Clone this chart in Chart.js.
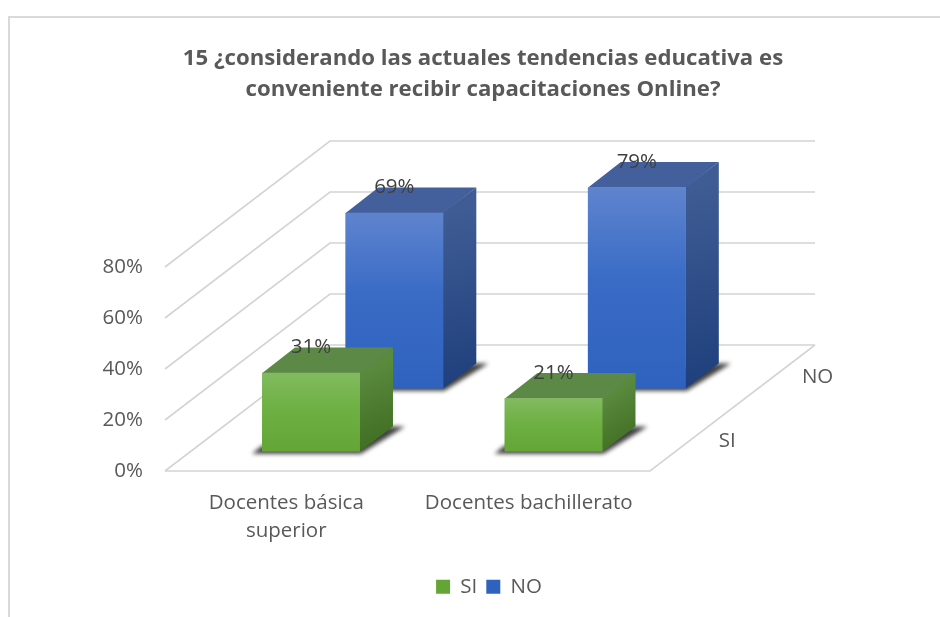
<!DOCTYPE html>
<html><head><meta charset="utf-8">
<script src="https://cdn.jsdelivr.net/npm/chart.js@4"></script>
<style>
html,body{margin:0;padding:0;background:#fff;overflow:hidden;width:940px;height:617px}
#frame{position:absolute;left:8px;top:16px;width:940px;height:610px;border-top:2px solid #d9d9d9;border-left:2px solid #d9d9d9;background:#fff}
#wrap{position:absolute;left:-1px;top:0;width:948px;height:599px}
</style></head><body>
<div id="frame"><div id="wrap"><canvas id="c" width="948" height="599" style="width:948px;height:599px"></canvas></div></div>
<script>
const titleLines = ['15 ¿considerando las actuales tendencias educativa es','conveniente recibir capacitaciones Online?'];
const categories = [['Docentes básica','superior'],'Docentes bachillerato'];
const seriesSI = [31,21];
const seriesNO = [69,79];
const yTicks = [0,20,40,60,80];
const FONT = '"Open Sans"';
const GREY = '#595959';
const LABEL = '#404040';

// Floor depth (px across the whole depth axis) and the position of each row on it
const depth = {x:165,y:-126};
const rowFront = [{x:0.15,y:0.153},{x:0.655,y:0.653}];
const barDepth = 0.2;
const rowLabelOff = [{x:36,y:1.5},{x:43,y:1}];
const legendShift = 6;

const palette = [
 {front:['#82BB60','#6FB044','#64A536'],top:'#5C8A46',side:['#5A8A3E','#3C6A1E'],legend:'#6FAF45'},
 {front:['#5F84CE','#3A6CC6','#2F62BE'],top:'#44609C',side:['#3F5C94','#1E3F7C'],legend:'#4472C4'}
];

function frontFill(i){
  return function(ctx){
    const p = palette[i];
    if(ctx.type!=='data'||!ctx.parsed) return p.legend;
    const ys = ctx.chart.scales.y;
    if(!ys) return p.legend;
    const y0=ys.getPixelForValue(ctx.parsed.y),y1=ys.getPixelForValue(0);
    if(!isFinite(y0)||!isFinite(y1)) return p.legend;
    const g = ctx.chart.ctx.createLinearGradient(0,y0,0,y1);
    g.addColorStop(0,p.front[0]);g.addColorStop(.45,p.front[1]);g.addColorStop(1,p.front[2]);
    return g;
  };
}

function poly(c,pts){c.beginPath();pts.forEach((q,i)=>i?c.lineTo(q[0],q[1]):c.moveTo(q[0],q[1]));c.closePath();}

const scene3d = {
  id:'scene3d',
  afterLayout(chart){chart.legend.left+=legendShift;chart.legend.right+=legendShift;},
  beforeDatasetsDraw(chart){
    const c=chart.ctx,a=chart.chartArea,ys=chart.scales.y;
    const b=ys.getPixelForValue(0);
    c.save();c.strokeStyle='#d4d4d4';c.lineWidth=1.6;
    yTicks.forEach(v=>{
      const y=ys.getPixelForValue(v);
      const yb=y+depth.y;
      c.beginPath();c.moveTo(a.left,y);c.lineTo(a.left+depth.x,yb);c.lineTo(a.right+depth.x,yb);c.stroke();
    });
    c.beginPath();c.moveTo(a.left,b);c.lineTo(a.right,b);c.lineTo(a.right+depth.x,b+depth.y);c.stroke();
    c.restore();
  },
  beforeDatasetDraw(chart,args){
    const c=chart.ctx,i=args.index,r=rowFront[i],p=palette[i];
    c.save();
    c.translate(r.x*depth.x,r.y*depth.y);
    const dx=barDepth*depth.x,dy=barDepth*depth.y;
    chart.getDatasetMeta(i).data.forEach(el=>{
      const s=el.getProps(['x','y','base','width'],true);
      const L=s.x-s.width/2,R=s.x+s.width/2,T=s.y,B=s.base;
      c.save();c.filter='blur(2px)';c.fillStyle='rgba(30,30,30,.85)';
      poly(c,[[L-10,B+2],[R+1,B+2],[R+dx+12,B+dy],[R+dx,B+dy],[L,B-6]]);c.fill();c.restore();
      const g=c.createLinearGradient(R,T,R+dx,B);
      g.addColorStop(0,p.side[0]);g.addColorStop(1,p.side[1]);
      c.fillStyle=g;poly(c,[[R-.5,T],[R+dx,T+dy],[R+dx,B+dy],[R-.5,B]]);c.fill();
      c.fillStyle=p.top;poly(c,[[L,T+.5],[R,T+.5],[R+dx,T+dy],[L+dx,T+dy]]);c.fill();
    });
  },
  afterDatasetDraw(chart){chart.ctx.restore();},
  afterDatasetsDraw(chart){
    const c=chart.ctx,a=chart.chartArea,b=chart.scales.y.getPixelForValue(0);
    c.save();c.font='20.5px '+FONT;c.textAlign='center';c.textBaseline='middle';
    chart.data.datasets.forEach((ds,i)=>{
      const r=rowFront[i];
      c.fillStyle=LABEL;
      chart.getDatasetMeta(i).data.forEach((el,k)=>{
        c.fillText(ds.data[k]+'%',el.x+r.x*depth.x,el.y+r.y*depth.y+barDepth*depth.y);
      });
      const f=r.x+barDepth/2;
      c.fillStyle=GREY;
      c.fillText(ds.label,a.right+f*depth.x+rowLabelOff[i].x,b+f*depth.y+rowLabelOff[i].y);
    });
    c.restore();
  }
};

new Chart(document.getElementById('c'),{
  type:'bar',
  data:{labels:categories,datasets:[
    {label:'SI',data:seriesSI,backgroundColor:frontFill(0),order:0},
    {label:'NO',data:seriesNO,backgroundColor:frontFill(1),order:0}
  ]},
  plugins:[scene3d],
  options:{
    responsive:false,animation:false,
    layout:{padding:{left:0,right:0,top:0,bottom:10}},
    datasets:{bar:{grouped:false,categoryPercentage:1,barPercentage:0.404}},
    scales:{
      x:{grid:{display:false},border:{display:false},
        afterFit(s){s.height=96.5;},
        ticks:{color:GREY,font:{family:FONT,size:20.5,lineHeight:'28px'},padding:10,maxRotation:0,autoSkip:false}},
      y:{min:0,max:80,grid:{display:false,drawTicks:false},border:{display:false},
        afterFit(s){s.width=156;},
        afterBuildTicks(s){s.ticks=yTicks.map(v=>({value:v}));},
        ticks:{color:GREY,font:{family:FONT,size:20.5},padding:22,callback:v=>v+'%'}},
      depthGutter:{type:'linear',position:'right',grid:{display:false},border:{display:false},
        ticks:{display:false},afterFit(s){s.width=307;}}
    },
    plugins:{
      tooltip:{enabled:false},
      title:{display:true,text:titleLines,color:GREY,font:{family:FONT,size:22.2,weight:'bold',lineHeight:'31px'},padding:{top:25,bottom:162}},
      legend:{position:'bottom',labels:{color:GREY,font:{family:FONT,size:20.5},boxWidth:14,boxHeight:14,padding:9}}
    }
  }
});
</script></body></html>
